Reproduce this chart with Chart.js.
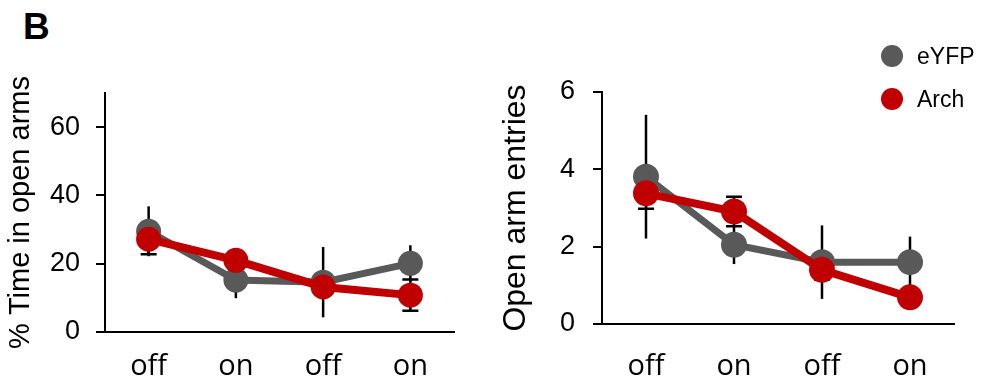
<!DOCTYPE html>
<html>
<head>
<meta charset="utf-8">
<script src="https://cdn.jsdelivr.net/npm/chart.js@4.4.1/dist/chart.umd.min.js"></script>
<style>
    body { margin: 0; background: #fff; width: 987px; height: 380px; position: relative; overflow: hidden; font-family: "Liberation Sans", Arial, sans-serif; }
    .panel { position: absolute; top: 0; height: 380px; }
    #left { left: 0; width: 470px; }
    #right { left: 490px; width: 497px; }
    .letter { position: absolute; left: 23px; top: 8px; font-weight: bold; font-size: 37px; line-height: 37px; }
    .legend-row { position: absolute; left: 880px; height: 26px; line-height: 26px; font-size: 23px; color: #000; }
    .legend-row i { position: absolute; left: 1px; top: 2px; width: 22px; height: 22px; border-radius: 50%; }
    .legend-row span { position: absolute; left: 37px; white-space: nowrap; }
</style>
</head>
<body>
<div class="letter">B</div>
<div class="panel" id="left"><canvas id="chart_time"></canvas></div>
<div class="panel" id="right"><canvas id="chart_entries"></canvas></div>
<div id="legend"></div>
<script>
const categories = ['off', 'on', 'off', 'on']

// % time in open arms (mean, sem)
const timeEyfp = [29.5, 15.2, 14.6, 20.1]
const timeEyfpErr = [7.3, 5.3, 10.3, 5.3]
const timeArch = [27.2, 21.0, 13.2, 10.8]
const timeArchErr = [4.4, 2.0, 2.0, 4.6]
const timeTicks = [0, 20, 40, 60]

// open arm entries (mean, sem)
const entriesEyfp = [3.81, 2.05, 1.6, 1.6]
const entriesEyfpErr = [1.6, 0.5, 0.95, 0.66]
const entriesArch = [3.38, 2.91, 1.4, 0.69]
const entriesArchErr = [0.4, 0.38, 0.25, 0.2]
const entriesTicks = [0, 2, 4, 6]

const GREY = '#595959'
const RED = '#c00000'

// error bars go under the lines and markers
const errorBars = {
    id: 'errorBars',
    beforeDatasetsDraw(chart) {
        const { ctx, scales: { y } } = chart
        ctx.save()
        ctx.strokeStyle = '#000'
        ctx.lineWidth = 2.5
        chart.data.datasets.forEach((ds, i) => {
            const meta = chart.getDatasetMeta(i)
            ds.data.forEach((v, j) => {
                const px = meta.data[j].x
                const top = y.getPixelForValue(v + ds.err[j])
                const bot = y.getPixelForValue(v - ds.err[j])
                ctx.beginPath()
                ctx.moveTo(px, top)
                ctx.lineTo(px, bot)
                if (ds.caps) {
                    ctx.moveTo(px - 8, top); ctx.lineTo(px + 8, top)
                    ctx.moveTo(px - 8, bot); ctx.lineTo(px + 8, bot)
                }
                ctx.stroke()
            })
        })
        ctx.restore()
    }
}

function series(label, data, err, color, width, radius, order, caps) {
    return {
        label, data, err, caps, order,
        borderColor: color,
        backgroundColor: color,
        pointBackgroundColor: color,
        pointBorderColor: color,
        borderWidth: width,
        pointRadius: radius,
        pointBorderWidth: 0,
        tension: 0,
    }
}

function make_chart(id, cfg) {
    return new Chart(document.getElementById(id), {
        type: 'line',
        data: {
            labels: categories,
            datasets: [
                series('eYFP', cfg.eyfp, cfg.eyfpErr, GREY, 7, cfg.radius, 1, false),
                series('Arch', cfg.arch, cfg.archErr, RED, 8, cfg.radius, 0, true),
            ]
        },
        options: {
            responsive: true,
            maintainAspectRatio: false,
            animation: false,
            layout: { padding: cfg.padding },
            plugins: { legend: { display: false }, tooltip: { enabled: false } },
            scales: {
                x: {
                    offset: true,
                    grid: { display: false, drawTicks: false },
                    border: { display: true, color: '#000', width: 2 },
                    ticks: { color: '#000', padding: cfg.xPad, font: { family: '"Open Sans"', size: 29 } },
                    afterFit: s => { s.height = cfg.xHeight },
                },
                y: {
                    min: 0,
                    max: cfg.max,
                    afterBuildTicks: s => { s.ticks = cfg.ticks.map(v => ({ value: v })) },
                    grid: { drawOnChartArea: false, drawTicks: true, tickLength: 9, color: '#000', lineWidth: 2 },
                    border: { display: true, color: '#000', width: 2 },
                    ticks: { color: '#000', padding: cfg.yPad, font: { family: '"Liberation Sans"', size: 27 } },
                    title: {
                        display: true, text: cfg.title, color: '#000',
                        padding: { top: cfg.titlePad, bottom: 0 },
                        font: { family: '"Liberation Sans"', size: cfg.titleSize }
                    },
                    afterFit: s => { s.width = cfg.yWidth },
                }
            }
        },
        plugins: [errorBars]
    })
}

make_chart('chart_time', {
    eyfp: timeEyfp, eyfpErr: timeEyfpErr, arch: timeArch, archErr: timeArchErr,
    ticks: timeTicks, max: 70, radius: 12.5,
    title: '% Time in open arms', titleSize: 29, titlePad: 4,
    padding: { top: 93, right: 16, bottom: 0, left: 0 },
    yWidth: 105, xHeight: 48, yPad: 16, xPad: 17,
})

const entries = make_chart('chart_entries', {
    eyfp: entriesEyfp, eyfpErr: entriesEyfpErr, arch: entriesArch, archErr: entriesArchErr,
    ticks: entriesTicks, max: 6, radius: 13,
    title: 'Open arm entries', titleSize: 32, titlePad: 7,
    padding: { top: 92, right: 33, bottom: 0, left: 0 },
    yWidth: 112, xHeight: 56, yPad: 18, xPad: 25,
})

// legend from the datasets
const legend = document.getElementById('legend')
entries.data.datasets.forEach((ds, i) => {
    const row = document.createElement('div')
    row.className = 'legend-row'
    row.style.top = (43 + i * 43) + 'px'
    row.innerHTML = `<i style="background:${ds.borderColor}"></i><span>${ds.label}</span>`
    legend.appendChild(row)
})
</script>
</body>
</html>
